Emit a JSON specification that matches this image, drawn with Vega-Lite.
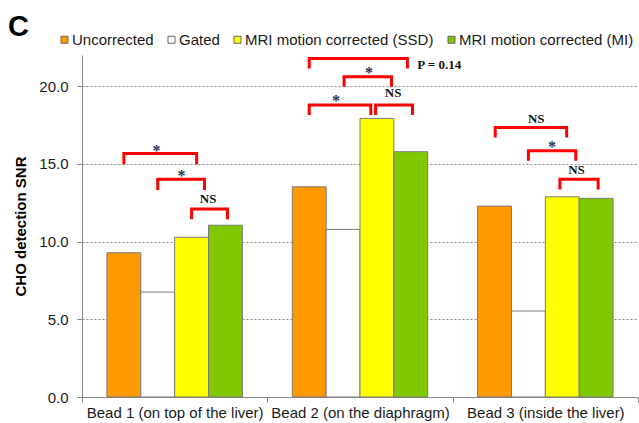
{
  "$schema": "https://vega.github.io/schema/vega-lite/v6.json",
  "width": 556,
  "height": 342,
  "autosize": {"type": "none"},
  "padding": {"left": 82, "top": 55, "right": 1, "bottom": 26},
  "background": "white",
  "config": {"font": "Liberation Sans", "view": {"stroke": null}},
  "title": {"text": "C", "anchor": "start", "frame": "group", "fontSize": 29, "fontWeight": "bold", "color": "#000000", "dx": -74, "dy": 14, "font": "Liberation Sans"},
  "datasets": {
    "bars": [
      {"bead": "Bead 1 (on top of the liver)", "method": "Uncorrected", "snr": 9.28},
      {"bead": "Bead 1 (on top of the liver)", "method": "Gated", "snr": 6.75},
      {"bead": "Bead 1 (on top of the liver)", "method": "MRI motion corrected (SSD)", "snr": 10.28},
      {"bead": "Bead 1 (on top of the liver)", "method": "MRI motion corrected (MI)", "snr": 11.05},
      {"bead": "Bead 2 (on the diaphragm)", "method": "Uncorrected", "snr": 13.52},
      {"bead": "Bead 2 (on the diaphragm)", "method": "Gated", "snr": 10.78},
      {"bead": "Bead 2 (on the diaphragm)", "method": "MRI motion corrected (SSD)", "snr": 17.92},
      {"bead": "Bead 2 (on the diaphragm)", "method": "MRI motion corrected (MI)", "snr": 15.78},
      {"bead": "Bead 3 (inside the liver)", "method": "Uncorrected", "snr": 12.28},
      {"bead": "Bead 3 (inside the liver)", "method": "Gated", "snr": 5.53},
      {"bead": "Bead 3 (inside the liver)", "method": "MRI motion corrected (SSD)", "snr": 12.88},
      {"bead": "Bead 3 (inside the liver)", "method": "MRI motion corrected (MI)", "snr": 12.78}
    ],
    "brackets": [
      {"id": "b1a", "bead": "Bead 1 (on top of the liver)", "u": 0, "y": 14.98, "o": 1},
      {"id": "b1a", "bead": "Bead 1 (on top of the liver)", "u": 0, "y": 15.67, "o": 2},
      {"id": "b1a", "bead": "Bead 1 (on top of the liver)", "u": 2.15, "y": 15.67, "o": 3},
      {"id": "b1a", "bead": "Bead 1 (on top of the liver)", "u": 2.15, "y": 14.98, "o": 4},
      {"id": "b1b", "bead": "Bead 1 (on top of the liver)", "u": 1.0, "y": 13.31, "o": 1},
      {"id": "b1b", "bead": "Bead 1 (on top of the liver)", "u": 1.0, "y": 14.0, "o": 2},
      {"id": "b1b", "bead": "Bead 1 (on top of the liver)", "u": 2.38, "y": 14.0, "o": 3},
      {"id": "b1b", "bead": "Bead 1 (on top of the liver)", "u": 2.38, "y": 13.31, "o": 4},
      {"id": "b1c", "bead": "Bead 1 (on top of the liver)", "u": 2.0, "y": 11.43, "o": 1},
      {"id": "b1c", "bead": "Bead 1 (on top of the liver)", "u": 2.0, "y": 12.09, "o": 2},
      {"id": "b1c", "bead": "Bead 1 (on top of the liver)", "u": 3.06, "y": 12.09, "o": 3},
      {"id": "b1c", "bead": "Bead 1 (on top of the liver)", "u": 3.06, "y": 11.43, "o": 4},
      {"id": "b2a", "bead": "Bead 2 (on the diaphragm)", "u": 0, "y": 21.13, "o": 1},
      {"id": "b2a", "bead": "Bead 2 (on the diaphragm)", "u": 0, "y": 21.78, "o": 2},
      {"id": "b2a", "bead": "Bead 2 (on the diaphragm)", "u": 2.9, "y": 21.78, "o": 3},
      {"id": "b2a", "bead": "Bead 2 (on the diaphragm)", "u": 2.9, "y": 21.13, "o": 4},
      {"id": "b2b", "bead": "Bead 2 (on the diaphragm)", "u": 1.03, "y": 19.95, "o": 1},
      {"id": "b2b", "bead": "Bead 2 (on the diaphragm)", "u": 1.03, "y": 20.6, "o": 2},
      {"id": "b2b", "bead": "Bead 2 (on the diaphragm)", "u": 2.43, "y": 20.6, "o": 3},
      {"id": "b2b", "bead": "Bead 2 (on the diaphragm)", "u": 2.43, "y": 19.95, "o": 4},
      {"id": "b2c", "bead": "Bead 2 (on the diaphragm)", "u": 0, "y": 18.14, "o": 1},
      {"id": "b2c", "bead": "Bead 2 (on the diaphragm)", "u": 0, "y": 18.78, "o": 2},
      {"id": "b2c", "bead": "Bead 2 (on the diaphragm)", "u": 1.82, "y": 18.78, "o": 3},
      {"id": "b2c", "bead": "Bead 2 (on the diaphragm)", "u": 1.82, "y": 18.14, "o": 4},
      {"id": "b2d", "bead": "Bead 2 (on the diaphragm)", "u": 1.96, "y": 18.14, "o": 1},
      {"id": "b2d", "bead": "Bead 2 (on the diaphragm)", "u": 1.96, "y": 18.78, "o": 2},
      {"id": "b2d", "bead": "Bead 2 (on the diaphragm)", "u": 3.05, "y": 18.78, "o": 3},
      {"id": "b2d", "bead": "Bead 2 (on the diaphragm)", "u": 3.05, "y": 18.14, "o": 4},
      {"id": "b3a", "bead": "Bead 3 (inside the liver)", "u": 0.02, "y": 16.69, "o": 1},
      {"id": "b3a", "bead": "Bead 3 (inside the liver)", "u": 0.02, "y": 17.34, "o": 2},
      {"id": "b3a", "bead": "Bead 3 (inside the liver)", "u": 2.13, "y": 17.34, "o": 3},
      {"id": "b3a", "bead": "Bead 3 (inside the liver)", "u": 2.13, "y": 16.69, "o": 4},
      {"id": "b3b", "bead": "Bead 3 (inside the liver)", "u": 1.0, "y": 15.2, "o": 1},
      {"id": "b3b", "bead": "Bead 3 (inside the liver)", "u": 1.0, "y": 15.84, "o": 2},
      {"id": "b3b", "bead": "Bead 3 (inside the liver)", "u": 2.4, "y": 15.84, "o": 3},
      {"id": "b3b", "bead": "Bead 3 (inside the liver)", "u": 2.4, "y": 15.2, "o": 4},
      {"id": "b3c", "bead": "Bead 3 (inside the liver)", "u": 1.93, "y": 13.35, "o": 1},
      {"id": "b3c", "bead": "Bead 3 (inside the liver)", "u": 1.93, "y": 14.0, "o": 2},
      {"id": "b3c", "bead": "Bead 3 (inside the liver)", "u": 3.06, "y": 14.0, "o": 3},
      {"id": "b3c", "bead": "Bead 3 (inside the liver)", "u": 3.06, "y": 13.35, "o": 4}
    ],
    "stars": [
      {"bead": "Bead 1 (on top of the liver)", "u": 0.96, "y": 16.1, "label": "*"},
      {"bead": "Bead 1 (on top of the liver)", "u": 1.70, "y": 14.47, "label": "*"},
      {"bead": "Bead 2 (on the diaphragm)", "u": 1.765, "y": 21.13, "label": "*"},
      {"bead": "Bead 2 (on the diaphragm)", "u": 0.79, "y": 19.31, "label": "*"},
      {"bead": "Bead 3 (inside the liver)", "u": 1.70, "y": 16.31, "label": "*"}
    ],
    "notes": [
      {"bead": "Bead 1 (on top of the liver)", "u": 2.49, "y": 12.71, "label": "NS"},
      {"bead": "Bead 2 (on the diaphragm)", "u": 3.84, "y": 21.35, "label": "P = 0.14"},
      {"bead": "Bead 2 (on the diaphragm)", "u": 2.48, "y": 19.53, "label": "NS"},
      {"bead": "Bead 3 (inside the liver)", "u": 1.23, "y": 17.88, "label": "NS"},
      {"bead": "Bead 3 (inside the liver)", "u": 2.42, "y": 14.6, "label": "NS"}
    ]
  },
  "layer": [
    {
      "data": {"name": "bars"},
      "mark": {"type": "bar", "stroke": "#7a7a7a", "strokeWidth": 1},
      "encoding": {
        "x": {
          "field": "bead", "type": "nominal", "sort": null,
          "scale": {"type": "band", "paddingInner": 0, "paddingOuter": 0},
          "axis": {"title": null, "tickBand": "extent", "labelAngle": 0, "domainColor": "#888888", "tickColor": "#888888", "tickSize": 5, "labelFontSize": 15, "labelColor": "#1a1a1a", "labelPadding": 3, "grid": false}
        },
        "xOffset": {
          "field": "method", "type": "nominal",
          "sort": ["Uncorrected", "Gated", "MRI motion corrected (SSD)", "MRI motion corrected (MI)"],
          "scale": {"paddingInner": 0, "paddingOuter": 0.737}
        },
        "y": {
          "field": "snr", "type": "quantitative",
          "scale": {"domain": [0, 22], "nice": false},
          "axis": {"title": "CHO detection SNR", "titleFontSize": 15, "titleFontWeight": "bold", "titleColor": "#000000", "titlePadding": 10, "values": [0, 5, 10, 15, 20], "format": ".1f", "labelFontSize": 15, "labelColor": "#1a1a1a", "labelPadding": 9, "tickSize": 5, "tickColor": "#888888", "domainColor": "#888888", "grid": true, "gridDash": [2, 2], "gridColor": "#888888"}
        },
        "fill": {
          "field": "method", "type": "nominal",
          "scale": {"domain": ["Uncorrected", "Gated", "MRI motion corrected (SSD)", "MRI motion corrected (MI)"], "range": ["#ff9900", "#ffffff", "#ffff00", "#7fc800"]},
          "legend": {"title": null, "orient": "none", "legendX": -25, "legendY": -23, "direction": "horizontal", "columns": 4, "symbolType": "square", "symbolSize": 49, "symbolStrokeColor": "#666666", "symbolStrokeWidth": 1, "labelFontSize": 15, "labelColor": "#1a1a1a", "labelOffset": 0, "labelLimit": 0, "columnPadding": 10, "padding": 0}
        }
      }
    },
    {
      "data": {"name": "brackets"},
      "mark": {"type": "line", "color": "#ff0000", "strokeWidth": 3, "strokeJoin": "miter", "strokeCap": "butt"},
      "encoding": {
        "x": {"field": "bead", "type": "nominal", "sort": null},
        "xOffset": {"field": "u", "type": "quantitative", "scale": {"domain": [-1.237, 4.237], "zero": false, "nice": false}},
        "y": {"field": "y", "type": "quantitative"},
        "detail": {"field": "id"},
        "order": {"field": "o", "type": "quantitative"}
      }
    },
    {
      "data": {"name": "stars"},
      "mark": {"type": "text", "font": "Liberation Serif", "fontWeight": "bold", "fontSize": 16, "color": "#2b3552", "baseline": "middle", "dy": 4},
      "encoding": {
        "x": {"field": "bead", "type": "nominal", "sort": null},
        "xOffset": {"field": "u", "type": "quantitative", "scale": {"domain": [-1.237, 4.237], "zero": false, "nice": false}},
        "y": {"field": "y", "type": "quantitative"},
        "text": {"field": "label"}
      }
    },
    {
      "data": {"name": "notes"},
      "mark": {"type": "text", "font": "Liberation Serif", "fontWeight": "bold", "fontSize": 13, "color": "#111111", "baseline": "middle"},
      "encoding": {
        "x": {"field": "bead", "type": "nominal", "sort": null},
        "xOffset": {"field": "u", "type": "quantitative", "scale": {"domain": [-1.237, 4.237], "zero": false, "nice": false}},
        "y": {"field": "y", "type": "quantitative"},
        "text": {"field": "label"}
      }
    }
  ],
  "resolve": {"scale": {"xOffset": "independent"}}
}
